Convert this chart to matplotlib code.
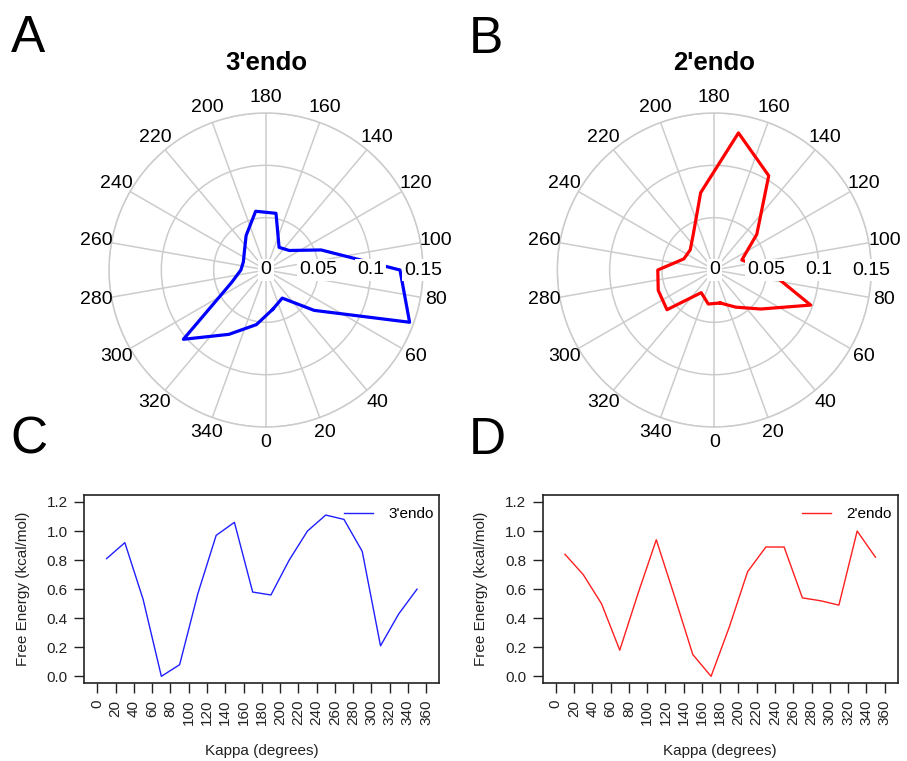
import numpy as np
import matplotlib
matplotlib.use('Agg')
import matplotlib.pyplot as plt

plt.rcParams['font.family'] = ['Liberation Sans', 'DejaVu Sans']

# kappa bins (degrees)
kappa = [10, 30, 50, 70, 90, 110, 130, 150, 170, 190, 210, 230, 250, 270, 290, 310, 330, 350]

# probability per bin (polar plots)
prob_3endo = [0.038, 0.031, 0.060, 0.146, 0.128, 0.056, 0.029, 0.025, 0.055,
              0.057, 0.038, 0.027, 0.023, 0.024, 0.035, 0.103, 0.071, 0.053]
prob_2endo = [0.032, 0.041, 0.058, 0.098, 0.051, 0.028, 0.053, 0.104, 0.133,
              0.075, 0.040, 0.030, 0.031, 0.054, 0.057, 0.059, 0.025, 0.033]

# free energy (kcal/mol)
fe_3endo = [0.81, 0.92, 0.53, 0.00, 0.08, 0.57, 0.97, 1.06, 0.58,
            0.56, 0.80, 1.00, 1.11, 1.08, 0.86, 0.21, 0.43, 0.60]
fe_2endo = [0.84, 0.70, 0.50, 0.18, 0.57, 0.94, 0.55, 0.15, 0.00,
            0.34, 0.72, 0.89, 0.89, 0.54, 0.52, 0.49, 1.00, 0.82]

spoke_labels = list(range(0, 360, 20))
ring_values = [0.05, 0.1, 0.15]
ring_labels = ['0', '0.05', '0.1', '0.15']

W, H = 907, 761
fig = plt.figure(figsize=(W / 100, H / 100), dpi=100)


def px_axes(left, top, right, bottom, **kw):
    return fig.add_axes([left / W, 1 - bottom / H, (right - left) / W, (bottom - top) / H], **kw)


def polar_panel(cx, cy, vals, color, title):
    R = 157
    ax = px_axes(cx - R, cy - R, cx + R, cy + R, projection='polar')
    ax.set_theta_zero_location('S')
    ax.set_theta_direction(1)
    ax.set_ylim(0, 0.15)
    ax.set_yticks(ring_values)
    ax.set_yticklabels([])
    ax.set_xticks(np.deg2rad(spoke_labels))
    ax.set_xticklabels([])
    ax.tick_params(length=0)
    ax.grid(True, color='#cccccc', lw=1.1)
    ax.spines['polar'].set_color('#cccccc')
    ax.spines['polar'].set_linewidth(1.1)
    th = np.deg2rad(kappa + [kappa[0]])
    ax.plot(th, vals + [vals[0]], color=color, lw=2.3, zorder=3)
    for d in spoke_labels:
        ax.text(np.deg2rad(d), 0.165, str(d), ha='center', va='center', fontsize=14)
    for r, lab in zip([0] + ring_values, ring_labels):
        ax.text(np.pi / 2, r, lab, ha='center', va='center', fontsize=14, zorder=5,
                bbox=dict(fc='white', ec='none', pad=1.5))
    fig.text(cx / W, 1 - 63 / H, title, ha='center', va='center', fontsize=18.5, fontweight='bold')
    return ax


def line_panel(left, right, vals, color, label):
    ax = px_axes(left, 495, right, 683.3)
    ax.plot(kappa, vals, color=color, lw=1.0, label=label)
    ax.set_xlim(-14.4, 374.4)
    ax.set_ylim(-0.048, 1.248)
    ax.set_xticks(range(0, 361, 20))
    ax.set_xticklabels([str(v) for v in range(0, 361, 20)], rotation=90)
    ax.set_yticks(np.arange(0, 1.21, 0.2))
    ax.set_yticklabels(['%.1f' % v for v in np.arange(0, 1.21, 0.2)])
    ax.tick_params(length=7, width=1.0, pad=5, labelsize=11, color='#222222', labelcolor='#222222')
    for s in ax.spines.values():
        s.set_linewidth(1.2)
        s.set_color('#222222')
    ax.set_xlabel('Kappa (degrees)', fontsize=11, color='#222222', labelpad=13)
    ax.set_ylabel('Free Energy (kcal/mol)', fontsize=11, color='#222222', labelpad=12)
    ax.legend(loc='upper right', bbox_to_anchor=(1.01, 0.985), frameon=False, fontsize=11,
              handlelength=1.9, handletextpad=1.0, borderaxespad=0.2)
    return ax


polar_panel(266, 270, prob_3endo, '#0000ff', "3'endo")
polar_panel(714.3, 270, prob_2endo, '#ff0000', "2'endo")
line_panel(84.3, 439.3, fe_3endo, '#1f1fff', "3'endo")
line_panel(542.7, 897.7, fe_2endo, '#ff1f1f', "2'endo")

for lab, x, y in [('A', 28, 51.7), ('B', 486, 53.3), ('C', 28.5, 453), ('D', 487, 454)]:
    fig.text(x / W, 1 - y / H, lab, ha='center', va='baseline', fontsize=37)

fig.savefig('out.png', dpi=100)
